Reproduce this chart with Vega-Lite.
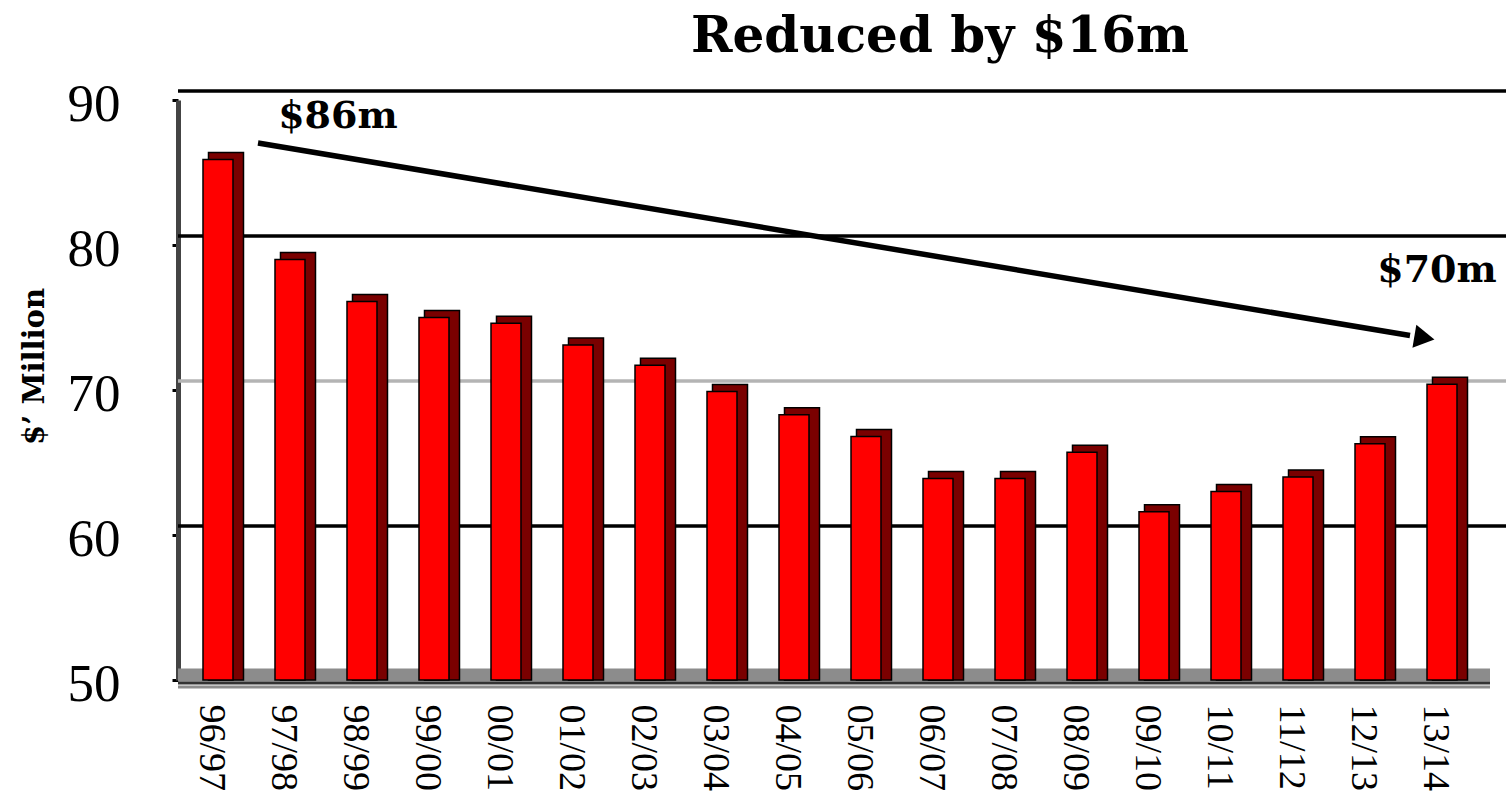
{
  "$schema": "https://vega.github.io/schema/vega-lite/v6.json",
  "width": 1312,
  "height": 580,
  "autosize": "none",
  "padding": {"left": 178, "top": 100, "right": 16, "bottom": 117},
  "background": "white",
  "config": {
    "view": {"stroke": null},
    "axisX": {"labelFont": "Liberation Serif, Times New Roman, serif", "labelFontSize": 38, "labelColor": "#000000", "labelAngle": 90, "labelAlign": "left", "labelBaseline": "middle", "labelPadding": 24, "labelOffset": -11, "domain": false, "ticks": false, "title": null},
    "axisY": {"labelFont": "Liberation Serif, Times New Roman, serif", "labelFontSize": 53, "labelColor": "#000000"}
  },
  "title": {"text": "Reduced by $16m", "font": "DejaVu Serif", "fontWeight": "bold", "fontSize": 50, "color": "black", "anchor": "middle", "dx": 106, "offset": 16},
  "datasets": {
    "bars": [
      {"period": "96/97", "value": 85.9},
      {"period": "97/98", "value": 79.0},
      {"period": "98/99", "value": 76.1},
      {"period": "99/00", "value": 75.0},
      {"period": "00/01", "value": 74.6},
      {"period": "01/02", "value": 73.1},
      {"period": "02/03", "value": 71.7},
      {"period": "03/04", "value": 69.9},
      {"period": "04/05", "value": 68.3},
      {"period": "05/06", "value": 66.8},
      {"period": "06/07", "value": 63.9},
      {"period": "07/08", "value": 63.9},
      {"period": "08/09", "value": 65.7},
      {"period": "09/10", "value": 61.6},
      {"period": "10/11", "value": 63.0},
      {"period": "11/12", "value": 64.0},
      {"period": "12/13", "value": 66.3},
      {"period": "13/14", "value": 70.4}
    ],
    "grid": [
      {"level": 60, "kind": "major"},
      {"level": 70, "kind": "minor"},
      {"level": 80, "kind": "major"},
      {"level": 90, "kind": "major"}
    ],
    "arrow": [
      {"period": "97/98", "value": 87.03},
      {"period": "13/14", "value": 73.76}
    ],
    "head": [{"period": "13/14", "value": 73.59}],
    "lab86": [{"period": "97/98", "value": 88.1, "label": "$86m"}],
    "lab70": [{"period": "13/14", "value": 77.45, "label": "$70m"}],
    "floor": [{"level": 50}]
  },
  "layer": [
    {
      "data": {"name": "grid"},
      "mark": {"type": "rule", "strokeWidth": 3.5, "yOffset": -9, "xOffset": 18},
      "encoding": {
        "y": {
          "field": "level", "type": "quantitative",
          "scale": {"domain": [50, 90], "nice": false, "zero": false},
          "axis": {"title": "$’ Million", "values": [50, 60, 70, 80, 90], "grid": false, "domain": true, "domainColor": "#444444", "domainWidth": 5, "ticks": true, "tickSize": 6, "tickWidth": 3, "tickColor": "#000000", "labelPadding": 52, "labelOffset": 4, "titleFont": "DejaVu Serif", "titleFontWeight": "bold", "titleFontSize": 29, "titleColor": "#000000", "titleAngle": 270, "titleX": -144, "titleY": 266, "titleAlign": "center", "titleBaseline": "middle"}
        },
        "color": {"field": "kind", "type": "nominal", "scale": {"domain": ["major", "minor"], "range": ["#000000", "#b4b4b4"]}, "legend": null}
      }
    },
    {
      "data": {"name": "floor"},
      "mark": {"type": "rule", "strokeWidth": 13, "color": "#8c8c8c", "yOffset": -5},
      "encoding": {"y": {"field": "level", "type": "quantitative"}}
    },
    {
      "data": {"name": "floor"},
      "mark": {"type": "rule", "strokeWidth": 3, "color": "#333333", "yOffset": 3},
      "encoding": {"y": {"field": "level", "type": "quantitative"}}
    },
    {
      "data": {"name": "floor"},
      "mark": {"type": "rule", "strokeWidth": 3, "color": "#8c8c8c", "yOffset": 7},
      "encoding": {"y": {"field": "level", "type": "quantitative"}}
    },
    {
      "data": {"name": "bars"},
      "mark": {"type": "bar", "width": 35, "xOffset": 4, "yOffset": -7, "color": "#7a0000", "stroke": "#000000", "strokeWidth": 1.5},
      "encoding": {
        "x": {
          "field": "period", "type": "nominal",
          "scale": {"domain": ["96/97","97/98","98/99","99/00","00/01","01/02","02/03","03/04","04/05","05/06","06/07","07/08","08/09","09/10","10/11","11/12","12/13","13/14"], "paddingInner": 0, "paddingOuter": 0.111},
          "axis": {"title": null}
        },
        "y": {"field": "value", "type": "quantitative"},
        "y2": {"datum": 50}
      }
    },
    {
      "data": {"name": "bars"},
      "mark": {"type": "bar", "width": 30, "xOffset": -4, "color": "#ff0000", "stroke": "#000000", "strokeWidth": 1.5},
      "encoding": {
        "x": {"field": "period", "type": "nominal"},
        "y": {"field": "value", "type": "quantitative"},
        "y2": {"datum": 50}
      }
    },
    {
      "data": {"name": "arrow"},
      "mark": {"type": "line", "color": "#000000", "strokeWidth": 5.5},
      "encoding": {
        "x": {"field": "period", "type": "nominal", "bandPosition": 0},
        "y": {"field": "value", "type": "quantitative"}
      }
    },
    {
      "data": {"name": "head"},
      "mark": {"type": "point", "shape": "triangle-right", "filled": true, "color": "#000000", "size": 550, "angle": 9.5, "opacity": 1},
      "encoding": {
        "x": {"field": "period", "type": "nominal", "bandPosition": 0.2},
        "y": {"field": "value", "type": "quantitative"}
      }
    },
    {
      "data": {"name": "lab86"},
      "mark": {"type": "text", "align": "left", "baseline": "alphabetic", "font": "DejaVu Serif", "fontWeight": "bold", "fontSize": 38, "color": "#000000"},
      "encoding": {
        "x": {"field": "period", "type": "nominal", "bandPosition": 0.28},
        "y": {"field": "value", "type": "quantitative"},
        "text": {"field": "label"}
      }
    },
    {
      "data": {"name": "lab70"},
      "mark": {"type": "text", "align": "center", "baseline": "alphabetic", "font": "DejaVu Serif", "fontWeight": "bold", "fontSize": 38, "color": "#000000"},
      "encoding": {
        "x": {"field": "period", "type": "nominal", "bandPosition": 0.375},
        "y": {"field": "value", "type": "quantitative"},
        "text": {"field": "label"}
      }
    }
  ]
}
